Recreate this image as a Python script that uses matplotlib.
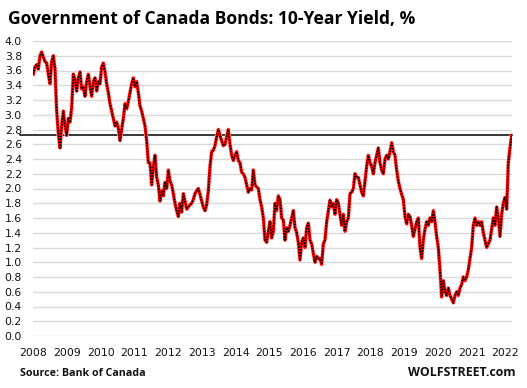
import numpy as np
import matplotlib
matplotlib.use("Agg")
import matplotlib.pyplot as plt
import matplotlib.transforms as mtransforms

# ---- data (10-year yield, %, roughly every 2.5 weeks) ----
seg_2008_2010 = [3.55, 3.65, 3.68, 3.62, 3.80, 3.85, 3.78, 3.72, 3.70, 3.55,
                 3.42, 3.72, 3.80, 3.62, 3.05, 2.75, 2.55, 2.85, 3.05, 2.85,
                 2.72, 2.95, 2.90, 3.10, 3.55, 3.48, 3.32, 3.50, 3.58, 3.35,
                 3.38, 3.25, 3.45, 3.55, 3.38, 3.25, 3.45, 3.50, 3.32, 3.45,
                 3.42, 3.65, 3.70, 3.58, 3.42, 3.30, 3.15, 3.05, 2.95, 2.85,
                 2.90, 2.82, 2.65, 2.80, 2.95, 3.15, 3.08, 3.18, 3.30]
seg_2011_2015 = [3.42, 3.50, 3.38, 3.45, 3.30, 3.12, 3.05, 2.95, 2.85, 2.65,
                 2.35, 2.35, 2.05, 2.30, 2.45, 2.15, 2.05, 1.83, 1.97, 1.90,
                 2.08, 2.00, 2.25, 2.10, 2.05, 1.93, 1.80, 1.70, 1.62, 1.80,
                 1.68, 1.93, 1.83, 1.72, 1.75, 1.78, 1.80, 1.85, 1.93, 1.97,
                 2.00, 1.92, 1.83, 1.75, 1.70, 1.78, 1.97, 2.30, 2.50, 2.52,
                 2.58, 2.70, 2.80, 2.72, 2.65, 2.58, 2.60, 2.70, 2.80, 2.60,
                 2.45, 2.38, 2.45, 2.50, 2.38, 2.35, 2.22, 2.20, 2.15, 2.05,
                 1.95, 2.00, 1.98, 2.25, 2.05, 2.02, 2.00, 1.85, 1.75, 1.60,
                 1.30, 1.27]
seg_2015_2016 = [1.42, 1.55, 1.33, 1.42, 1.80, 1.70, 1.90, 1.85, 1.60, 1.57,
                 1.30, 1.47, 1.42, 1.50, 1.60, 1.70, 1.47, 1.40, 1.27, 1.03,
                 1.27, 1.33, 1.20, 1.47, 1.53, 1.30, 1.25, 1.12, 1.00, 1.08,
                 1.05, 1.05]
seg_2016_2019 = [0.97, 1.25, 1.30, 1.55, 1.70, 1.84, 1.75, 1.80, 1.65, 1.85,
                 1.80, 1.65, 1.50, 1.65, 1.42, 1.55, 1.60, 1.93, 1.95, 2.00,
                 2.20, 2.15, 2.15, 2.05, 1.95, 1.90, 2.10, 2.30, 2.45, 2.35,
                 2.30, 2.20, 2.35, 2.45, 2.55, 2.35, 2.25, 2.20, 2.40, 2.45,
                 2.40, 2.50, 2.62, 2.50, 2.45, 2.25, 2.10, 2.00, 1.92, 1.85,
                 1.62, 1.52, 1.65, 1.62, 1.50, 1.35, 1.45]
seg_2019_2022 = [1.55, 1.60, 1.20, 1.05, 1.30, 1.45, 1.55, 1.50, 1.60, 1.55,
                 1.70, 1.55, 1.35, 1.20, 0.90, 0.53, 0.75, 0.60, 0.55, 0.65,
                 0.55, 0.50, 0.45, 0.55, 0.60, 0.55, 0.65, 0.70, 0.80, 0.75,
                 0.80, 0.90, 1.05, 1.20, 1.50, 1.60, 1.50, 1.55, 1.50, 1.55,
                 1.40, 1.30, 1.20, 1.25, 1.30, 1.45, 1.60, 1.50, 1.75, 1.60,
                 1.35, 1.65, 1.80, 1.88, 1.72, 2.35, 2.55, 2.72]

yields = seg_2008_2010 + seg_2011_2015 + seg_2015_2016 + seg_2016_2019 + seg_2019_2022
start_year, end_year = 2008.0, 2022.19          # first and last observation
dates = np.linspace(start_year, end_year, len(yields))

latest_level = 2.72
year_ticks = list(range(2008, 2023))
yield_ticks = [round(0.2 * i, 1) for i in range(21)]

title = "Government of Canada Bonds: 10-Year Yield, %"
source = "Source: Bank of Canada"
brand = "WOLFSTREET.com"

# ---- figure ----
W, H = 527, 388
fig = plt.figure(figsize=(W / 100, H / 100), dpi=100)
ax = fig.add_axes([33 / W, (H - 336) / H, (512 - 33) / W, (336 - 41) / H])

ax.set_xlim(2007.99, 2022.20)
ax.set_ylim(0, 4.0)
ax.set_yticks(yield_ticks)
ax.set_yticklabels([f"{v:.1f}" for v in yield_ticks])
ax.set_xticks(year_ticks)
ax.set_xticklabels([str(y) for y in year_ticks])
ax.tick_params(axis="both", length=0, labelsize=7.8, colors="#111111")
ax.tick_params(axis="y", pad=8)
ax.tick_params(axis="x", pad=9)
for s in ax.spines.values():
    s.set_visible(False)
ax.grid(axis="y", color="#d9d9d9", lw=1.0)
ax.set_axisbelow(True)

# latest-level reference line (extends a bit left of the plot area)
trans = mtransforms.blended_transform_factory(ax.transAxes, ax.transData)
ax.plot([-0.028, 1.0], [latest_level, latest_level], color="black", lw=1.1,
        transform=trans, clip_on=False, zorder=3)

# the yield series: faint pink halo, red line, black dotted overlay
ax.plot(dates, yields, color="#ffc4c4", lw=3.0, solid_joinstyle="round",
        solid_capstyle="round", zorder=4)
ax.plot(dates, yields, color="#ff0000", lw=2.2, solid_joinstyle="round", zorder=5)
ax.plot(dates, yields, color="black", lw=1.1, dashes=(1.0, 0.9),
        dash_joinstyle="round", zorder=6)

fig.text(8 / W, 1 - 19 / H, title, fontsize=12.6, fontweight="bold",
         family="Open Sans", va="center", ha="left", color="black")
fig.text(20 / W, 1 - 374 / H, source, fontsize=7.7, fontweight="bold",
         family="Open Sans", va="center", ha="left", color="#111111")
fig.text(515 / W, 1 - 373 / H, brand, fontsize=8.9, fontweight="bold",
         family="Open Sans", va="center", ha="right", color="#111111")

fig.savefig("out.png", dpi=100)
